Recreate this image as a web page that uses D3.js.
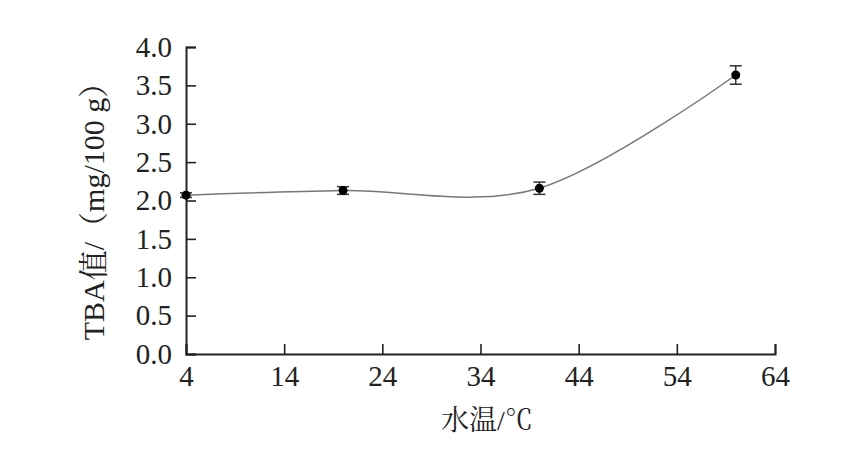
<!DOCTYPE html>
<html><head><meta charset="utf-8">
<script src="https://cdn.jsdelivr.net/npm/d3@7/dist/d3.min.js"></script>
<style>body{margin:0;background:#fff}svg{display:block}
.serif{font-family:"Liberation Serif","Times New Roman","DejaVu Serif",serif}
.cjk{font-family:"Liberation Serif","Noto Serif CJK SC","Noto Sans CJK SC",serif}
</style>
</head><body>
<svg id="c" width="852" height="450"></svg>
<script>
const temps = [4, 20, 40, 60];
const tba = [2.07, 2.13, 2.16, 3.635];
const errs = [0.03, 0.05, 0.08, 0.12];
const xTicks = [4, 14, 24, 34, 44, 54, 64];
const yTicks = [0, 0.5, 1.0, 1.5, 2.0, 2.5, 3.0, 3.5, 4.0];
const xTitle = "水温/℃";
const yTitle = "TBA值/（mg/100 g）";

const svg = d3.select("#c");
const m = {l:186, r:775, t:47, b:354};
const x = d3.scaleLinear().domain([4,64]).range([m.l, m.r]);
const y = d3.scaleLinear().domain([0,4]).range([m.b, m.t]);

const xa = svg.append("g").attr("transform",`translate(0,${m.b})`)
  .call(d3.axisBottom(x).tickValues(xTicks).tickSize(-10).tickPadding(11).tickFormat(d3.format("d")));
const ya = svg.append("g").attr("transform",`translate(${m.l},0)`)
  .call(d3.axisLeft(y).tickValues(yTicks).tickSize(-10).tickPadding(14).tickFormat(d3.format(".1f")));
[xa, ya].forEach(a => {
  a.attr("font-family", null);
  a.selectAll("path").attr("stroke","#222").attr("stroke-width",2);
  a.selectAll("line").attr("stroke","#222").attr("stroke-width",1.6);
  a.selectAll("text").attr("class","serif").attr("font-size",29).attr("fill","#222");
});
xa.selectAll("text").attr("dy","0.71em");

const pts = temps.map((t,i)=>[x(t), y(tba[i])]);
svg.append("path").datum(pts)
  .attr("d", d3.line().curve(d3.curveCardinal.tension(0)))
  .attr("fill","none").attr("stroke","#777").attr("stroke-width",1.5);

const eb = svg.append("g").attr("stroke","#333").attr("stroke-width",1.5);
temps.forEach((t,i)=>{
  const cx = x(t), y1 = y(tba[i]+errs[i]), y2 = y(tba[i]-errs[i]);
  eb.append("line").attr("x1",cx).attr("x2",cx).attr("y1",y1).attr("y2",y2);
  eb.append("line").attr("x1",cx-6).attr("x2",cx+6).attr("y1",y1).attr("y2",y1);
  eb.append("line").attr("x1",cx-6).attr("x2",cx+6).attr("y1",y2).attr("y2",y2);
});
svg.append("g").selectAll("circle").data(pts).join("circle")
  .attr("cx",d=>d[0]).attr("cy",d=>d[1]).attr("r",4.5)
  .attr("fill","#000");

svg.append("text").attr("x",487).attr("y",430).attr("text-anchor","middle")
  .attr("class","cjk").attr("font-size",28).attr("fill","#222")
  .text(xTitle);
svg.append("text").attr("transform",`translate(104,204) rotate(-90)`)
  .attr("text-anchor","middle")
  .attr("class","cjk").attr("font-size",30).attr("fill","#222")
  .text(yTitle);
</script>
</body></html>
